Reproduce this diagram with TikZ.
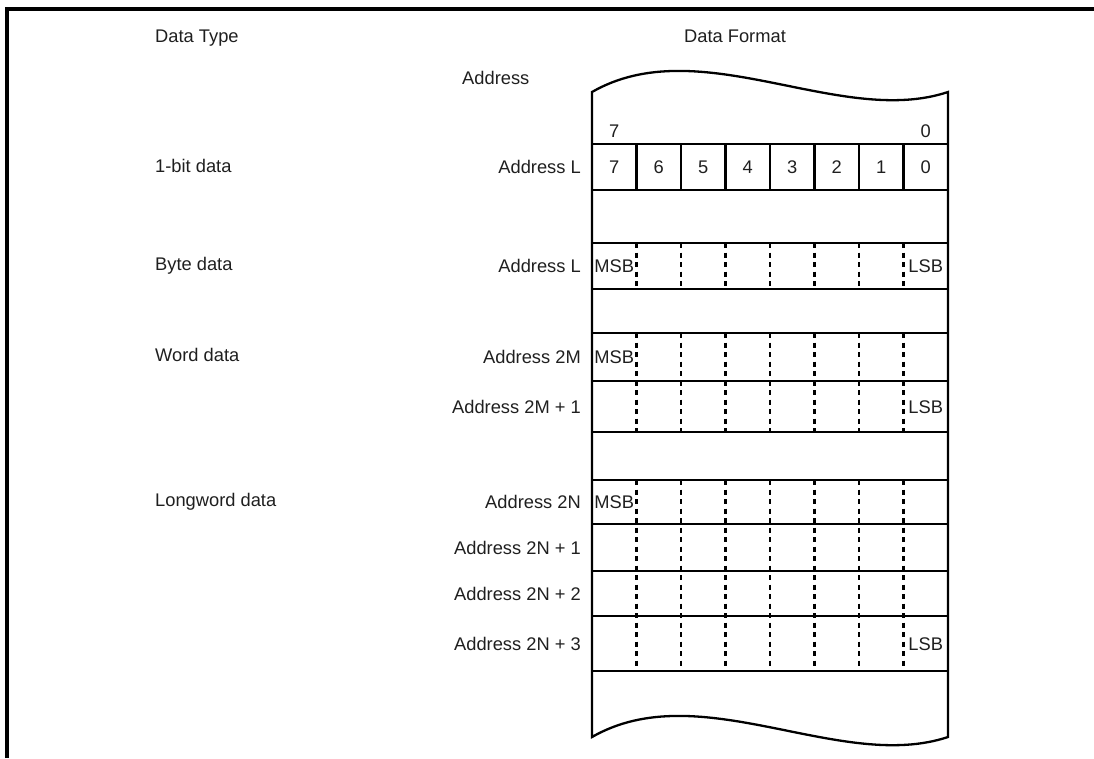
\documentclass[tikz,border=0pt]{standalone}
\usepackage{fontspec}
\setmainfont{Liberation Sans}
\begin{document}
\begin{tikzpicture}[x=1pt,y=-1pt,
  lbl/.style={font=\fontsize{18.3}{20}\selectfont, inner sep=0pt, text=black!88},
  frameline/.style={line width=3.8pt},
  boxline/.style={line width=2.3pt},
  dashline/.style={line width=2.6pt, dash pattern=on 5pt off 4.5pt}]
\useasboundingbox (0,0) rectangle (1094,758);
% outer frame
\draw[frameline] (7,758) -- (7,9) -- (1094,9);
% memory strip outline with wavy ends
\draw[boxline] (592,92) .. controls (700,30) and (840,128) .. (948,92)
  -- (948,737) .. controls (840,773) and (700,675) .. (592,737) -- cycle;
% horizontal row lines
\foreach \yy in {144,190,243,289,333,381,432,480,524,571,616,671}
  \draw[boxline] (592,\yy) -- (948,\yy);
% column separators
\foreach \k in {1,...,7}{
  \pgfmathsetmacro\xx{592+44.5*\k}
  \draw[boxline] (\xx,144) -- (\xx,190);
  \draw[dashline] (\xx,243) -- (\xx,289);
  \draw[dashline] (\xx,333) -- (\xx,432);
  \draw[dashline] (\xx,480) -- (\xx,671);
}
% bit numbers
\foreach \b [count=\i from 0] in {7,6,5,4,3,2,1,0}{
  \pgfmathsetmacro\xx{592+44.5*\i+22.25}
  \node[lbl,anchor=base] (bit\b) at (\xx,173.5) {\b};
}
\node[lbl,anchor=base] (top7) at (614.25,137.5) {7};
\node[lbl,anchor=base] (top0) at (925.75,137.5) {0};
% MSB / LSB
\node[lbl,anchor=base] (msbA) at (614.25,272.5) {MSB};
\node[lbl,anchor=base] (lsbA) at (925.75,272.5) {LSB};
\node[lbl,anchor=base] (msbB) at (614.25,363.5) {MSB};
\node[lbl,anchor=base] (lsbB) at (925.75,413) {LSB};
\node[lbl,anchor=base] (msbC) at (614.25,508.5) {MSB};
\node[lbl,anchor=base] (lsbC) at (925.75,650) {LSB};
% headings
\node[lbl,anchor=base west] (dtype) at (155,42.5) {Data Type};
\node[lbl,anchor=base] (dformat) at (735,42.5) {Data Format};
\node[lbl,anchor=base west] (addr) at (462,84.5) {Address};
% data type labels
\node[lbl,anchor=base west] (t1) at (155,172.5) {1-bit data};
\node[lbl,anchor=base west] (t2) at (155,270.5) {Byte data};
\node[lbl,anchor=base west] (t3) at (155,361.5) {Word data};
\node[lbl,anchor=base west] (t4) at (155,506.5) {Longword data};
% address labels
\node[lbl,anchor=base east] (a1) at (581,173.5) {Address L};
\node[lbl,anchor=base east] (a2) at (581,272.5) {Address L};
\node[lbl,anchor=base east] (a3) at (581,363.5) {Address 2M};
\node[lbl,anchor=base east] (a4) at (581,413) {Address 2M + 1};
\node[lbl,anchor=base east] (a5) at (581,508.5) {Address 2N};
\node[lbl,anchor=base east] (a6) at (581,554) {Address 2N + 1};
\node[lbl,anchor=base east] (a7) at (581,600) {Address 2N + 2};
\node[lbl,anchor=base east] (a8) at (581,650) {Address 2N + 3};
\end{tikzpicture}
\end{document}
